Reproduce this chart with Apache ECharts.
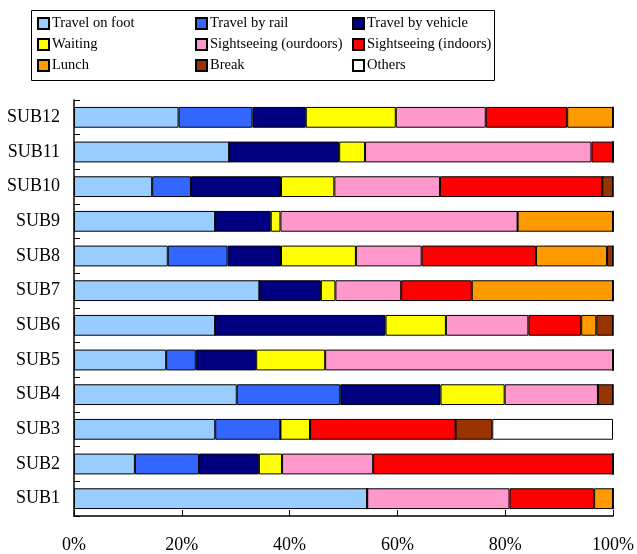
<!DOCTYPE html>
<html>
<head>
<meta charset="utf-8">
<script src="https://cdn.jsdelivr.net/npm/echarts@6/dist/echarts.min.js"></script>
<style>
  html, body { margin: 0; padding: 0; background: #fff; }
  #chart { width: 637px; height: 554px; }
</style>
</head>
<body>
<div id="chart"></div>
<script>
// Subjects, bottom to top
const subjects = ['SUB1', 'SUB2', 'SUB3', 'SUB4', 'SUB5', 'SUB6',
                  'SUB7', 'SUB8', 'SUB9', 'SUB10', 'SUB11', 'SUB12'];

// Share of time per activity (%), one value per subject (SUB1..SUB12)
const travelOnFoot     = [54.4, 11.3, 26.2, 30.2, 17.1, 26.2, 34.4, 17.4, 26.2, 14.5, 28.8, 19.4];
const travelByRail     = [0,    11.9, 12.1, 19.2, 5.5,  0,    0,    11.1, 0,    7.2,  0,    13.7];
const travelByVehicle  = [0,    11.1, 0,    18.6, 11.2, 31.6, 11.4, 9.9,  10.3, 16.7, 20.4, 9.9];
const waiting          = [0,    4.3,  5.5,  11.9, 12.8, 11.2, 2.7,  13.9, 1.8,  9.9,  4.8,  16.7];
const sightOutdoors    = [26.4, 16.9, 0,    17.3, 53.4, 15.3, 12.2, 12.2, 44.0, 19.6, 42.0, 16.7];
const sightIndoors     = [15.7, 44.5, 27.0, 0,    0,    9.8,  13.1, 21.2, 0,    30.1, 4.0,  15.1];
const lunch            = [3.5,  0,    0,    0,    0,    2.8,  26.2, 13.2, 17.7, 0,    0,    8.5];
const breakTime        = [0,    0,    6.8,  2.8,  0,    3.1,  0,    1.1,  0,    2.0,  0,    0];
const others           = [0,    0,    22.4, 0,    0,    0,    0,    0,    0,    0,    0,    0];

const xTicks = [0, 20, 40, 60, 80, 100];

const activities = [
  { name: 'Travel on foot',         data: travelOnFoot,    color: '#99CCFF' },
  { name: 'Travel by rail',         data: travelByRail,    color: '#3366FF' },
  { name: 'Travel by vehicle',      data: travelByVehicle, color: '#000080' },
  { name: 'Waiting',                data: waiting,         color: '#FFFF00' },
  { name: 'Sightseeing (ourdoors)', data: sightOutdoors,   color: '#FF99CC' },
  { name: 'Sightseeing (indoors)',  data: sightIndoors,    color: '#FF0000' },
  { name: 'Lunch',                  data: lunch,           color: '#FF9900' },
  { name: 'Break',                  data: breakTime,       color: '#993300' },
  { name: 'Others',                 data: others,          color: '#FFFFFF' }
];

const serif = '"Liberation Serif", "DejaVu Serif", serif';

const legendCommon = {
  orient: 'vertical',
  top: 16,
  icon: 'rect',
  itemWidth: 11,
  itemHeight: 11,
  itemGap: 6,
  padding: 0,
  selectedMode: false,
  textStyle: { fontFamily: serif, fontSize: 14.5, color: '#000', padding: [0, 0, 0, -2] }
};

const chart = echarts.init(document.getElementById('chart'), null, { renderer: 'canvas' });

chart.setOption({
  animation: false,
  backgroundColor: '#fff',
  graphic: [{
    type: 'rect',
    left: 29, top: 8,
    shape: { width: 463, height: 70 },
    style: { fill: 'none', stroke: '#000', lineWidth: 1 },
    z: 0
  }],
  legend: [
    Object.assign({}, legendCommon, { left: 37,  data: ['Travel on foot', 'Waiting', 'Lunch'] }),
    Object.assign({}, legendCommon, { left: 195, data: ['Travel by rail', 'Sightseeing (ourdoors)', 'Break'] }),
    Object.assign({}, legendCommon, { left: 352, data: ['Travel by vehicle', 'Sightseeing (indoors)', 'Others'] })
  ],
  grid: { left: 74, right: 24, top: 100, bottom: 37, containLabel: false },
  xAxis: {
    type: 'value',
    min: 0, max: 100, interval: 20,
    axisLine: { show: true, lineStyle: { color: '#000', width: 1.5 } },
    axisTick: { show: true, inside: true, length: 6, lineStyle: { color: '#000', width: 1 } },
    splitLine: { show: false },
    axisLabel: {
      margin: 20,
      fontFamily: serif, fontSize: 18, color: '#000',
      formatter: v => xTicks.includes(v) ? v + '%' : ''
    }
  },
  yAxis: {
    type: 'category',
    data: subjects,
    axisLine: { show: true, lineStyle: { color: '#000', width: 1.5 } },
    axisTick: { show: true, inside: true, length: 6, lineStyle: { color: '#000', width: 1 } },
    axisLabel: { margin: 14, fontFamily: serif, fontSize: 18, color: '#000' }
  },
  series: activities.map(a => ({
    name: a.name,
    type: 'bar',
    stack: 'total',
    barWidth: '60%',
    data: a.data,
    itemStyle: { color: a.color, borderColor: '#000', borderWidth: 1 },
    emphasis: { disabled: true }
  }))
});
</script>
</body>
</html>
